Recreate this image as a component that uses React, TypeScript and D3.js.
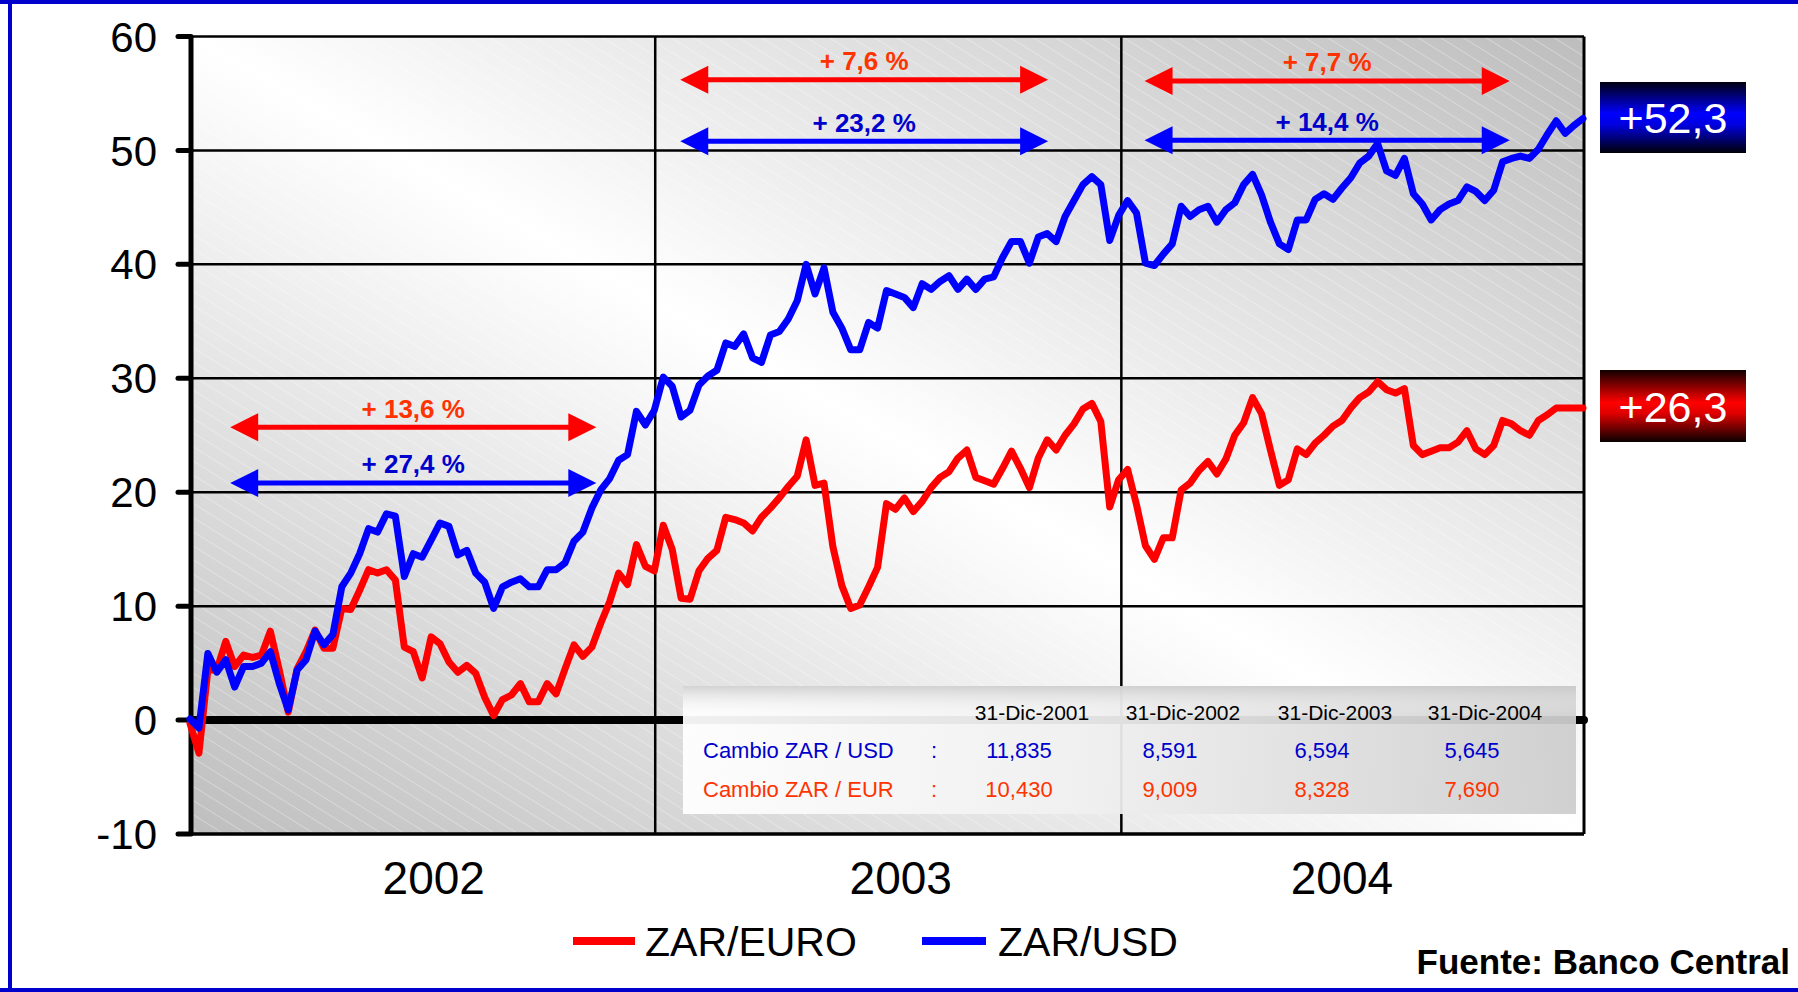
import React from 'react';
import * as d3 from 'd3';

// weekly % change of the rand vs 31-Dec-2001
const zarUsd = [
  0.1, -0.7, 5.85, 4.2, 5.3, 2.9, 4.7, 4.7, 5.0, 6.0, 3.2, 0.9, 4.4, 5.3, 7.8, 6.6, 7.5, 11.7, 12.9, 14.6,
  16.8, 16.5, 18.1, 17.9, 12.6, 14.6, 14.3, 15.8, 17.3, 17.0, 14.5, 14.9, 12.9, 12.1, 9.8, 11.7, 12.1, 12.4, 11.7, 11.7,
  13.2, 13.2, 13.8, 15.7, 16.5, 18.6, 20.2, 21.2, 22.8, 23.3, 27.1, 25.9, 27.2, 30.1, 29.3, 26.6, 27.2, 29.4, 30.2, 30.7,
  33.1, 32.8, 33.9, 31.8, 31.4, 33.8, 34.1, 35.2, 36.8, 40.0, 37.4, 39.7, 35.8, 34.4, 32.5, 32.5, 34.9, 34.4, 37.7, 37.4,
  37.1, 36.2, 38.3, 37.8, 38.5, 39.0, 37.8, 38.7, 37.8, 38.7, 38.9, 40.6, 42.0, 42.0, 40.1, 42.4, 42.7, 42.0, 44.2, 45.6,
  47.0, 47.7, 47.0, 42.1, 44.3, 45.6, 44.5, 40.1, 39.9, 40.9, 41.8, 45.1, 44.2, 44.8, 45.1, 43.7, 44.8, 45.4, 47.0, 47.9,
  46.1, 43.7, 41.8, 41.3, 43.9, 43.9, 45.7, 46.2, 45.7, 46.7, 47.6, 48.9, 49.5, 50.6, 48.2, 47.8, 49.3, 46.2, 45.3, 43.9,
  44.8, 45.3, 45.6, 46.8, 46.4, 45.6, 46.5, 49.0, 49.3, 49.5, 49.3, 50.1, 51.4, 52.6, 51.5, 52.2, 52.8,
];

const zarEur = [
  -0.3, -2.9, 4.4, 4.4, 6.9, 4.7, 5.7, 5.5, 5.7, 7.8, 4.4, 0.7, 4.5, 6.0, 7.9, 6.3, 6.3, 9.8, 9.7, 11.4,
  13.2, 12.9, 13.2, 12.3, 6.4, 6.0, 3.7, 7.3, 6.7, 5.1, 4.2, 4.8, 4.1, 2.0, 0.4, 1.8, 2.2, 3.2, 1.6, 1.6,
  3.2, 2.3, 4.5, 6.6, 5.6, 6.4, 8.5, 10.4, 12.9, 11.9, 15.4, 13.5, 13.1, 17.1, 15.0, 10.7, 10.6, 13.1, 14.2, 14.9,
  17.8, 17.6, 17.3, 16.6, 17.8, 18.6, 19.5, 20.5, 21.4, 24.6, 20.6, 20.8, 15.2, 11.8, 9.8, 10.1, 11.7, 13.4, 19.0, 18.5,
  19.5, 18.3, 19.2, 20.4, 21.3, 21.8, 23.0, 23.7, 21.3, 21.0, 20.7, 22.1, 23.6, 22.1, 20.4, 23.0, 24.6, 23.7, 25.0, 26.0,
  27.3, 27.8, 26.2, 18.7, 21.1, 22.0, 18.9, 15.3, 14.1, 16.0, 16.0, 20.2, 20.8, 21.9, 22.7, 21.6, 22.9, 25.0, 26.1, 28.3,
  26.9, 23.7, 20.6, 21.1, 23.8, 23.3, 24.3, 25.0, 25.8, 26.3, 27.4, 28.3, 28.8, 29.7, 29.0, 28.7, 29.1, 24.1, 23.3, 23.6,
  23.9, 23.9, 24.4, 25.4, 23.8, 23.3, 24.1, 26.3, 26.0, 25.4, 25.0, 26.3, 26.8, 27.4, 27.4, 27.4, 27.4,
];

const years = ['2002', '2003', '2004'];
const yearStartWeek = [0, 52.1, 104.3];
const yearLabelWeek = [27.3, 79.6, 129];
const yTicks = [-10, 0, 10, 20, 30, 40, 50, 60];

const eurChange = ['+ 13,6 %', '+ 7,6 %', '+ 7,7 %'];
const usdChange = ['+ 27,4 %', '+ 23,2 %', '+ 14,4 %'];
const arrowFrom = [4.5, 54.9, 106.9];
const arrowTo = [45.5, 96.1, 147.8];
const eurArrowLevel = [25.7, 56.2, 56.1];
const usdArrowLevel = [20.8, 50.8, 50.9];

const usdTotal = '+52,3';
const eurTotal = '+26,3';

const tableDates = ['31-Dic-2001', '31-Dic-2002', '31-Dic-2003', '31-Dic-2004'];
const usdRates = ['11,835', '8,591', '6,594', '5,645'];
const eurRates = ['10,430', '9,009', '8,328', '7,690'];

const RED = '#ff0000';
const BLUE = '#0000ff';
const RED_TXT = '#ff3300';
const BLUE_TXT = '#0000cc';
const FONT = 'Liberation Sans, Arial, sans-serif';

const W = 1798;
const H = 992;

const x = d3.scaleLinear().domain([0, 156]).range([190, 1583]);
const y = d3.scaleLinear().domain([-10, 60]).range([834, 36.5]);

const lineGen = d3.line<number>()
  .x((d, i) => x(i))
  .y(d => y(d));

const Arrow = ({ x1, x2, yy, color }: { x1: number; x2: number; yy: number; color: string }) => {
  const hl = 28, hh = 14;
  return (
    <g fill={color}>
      <line x1={x1 + hl - 2} x2={x2 - hl + 2} y1={yy} y2={yy} stroke={color} strokeWidth={5} />
      <polygon points={`${x1},${yy} ${x1 + hl},${yy - hh} ${x1 + hl},${yy + hh}`} />
      <polygon points={`${x2},${yy} ${x2 - hl},${yy - hh} ${x2 - hl},${yy + hh}`} />
    </g>
  );
};

const App = () => {
  const left = 191, right = 1584, top = y(60), bottom = y(-10);
  const colX = [1032, 1183, 1335, 1485];

  return (
    <div style={{ position: 'absolute', left: 0, top: 0 }}>
      <svg width={W} height={H} style={{ display: 'block', fontFamily: FONT }}>
        <defs>
          <linearGradient id="bg" x1="0" y1="1" x2="1" y2="0">
            <stop offset="0" stopColor="#bebebe" />
            <stop offset="0.5" stopColor="#ffffff" />
            <stop offset="1" stopColor="#bdbdbd" />
          </linearGradient>
          <pattern id="hatch" width="12" height="12" patternUnits="userSpaceOnUse" patternTransform="rotate(32)">
            <line x1="0" y1="0" x2="12" y2="0" stroke="#ffffff" strokeWidth="1.2" strokeOpacity="0.5" />
          </pattern>
          <linearGradient id="tbl" x1="0" y1="0" x2="1" y2="0">
            <stop offset="0" stopColor="#ffffff" />
            <stop offset="0.45" stopColor="#f0f0f0" />
            <stop offset="1" stopColor="#cdcdcd" />
          </linearGradient>
          <linearGradient id="tblTop" x1="0" y1="0" x2="0" y2="1">
            <stop offset="0" stopColor="#c8c8c8" stopOpacity="0.8" />
            <stop offset="0.25" stopColor="#ffffff" stopOpacity="0" />
          </linearGradient>
          <linearGradient id="boxBlue" x1="0" y1="0" x2="0" y2="1">
            <stop offset="0" stopColor="#000010" />
            <stop offset="0.45" stopColor="#0000ff" />
            <stop offset="0.6" stopColor="#0000e0" />
            <stop offset="1" stopColor="#000008" />
          </linearGradient>
          <linearGradient id="boxRed" x1="0" y1="0" x2="0" y2="1">
            <stop offset="0" stopColor="#100000" />
            <stop offset="0.45" stopColor="#ff0000" />
            <stop offset="0.6" stopColor="#e00000" />
            <stop offset="1" stopColor="#080000" />
          </linearGradient>
        </defs>

        {/* outer frame */}
        <rect x={0} y={0} width={W} height={H} fill="#ffffff" />
        <line x1={10} x2={10} y1={0} y2={H} stroke={BLUE_TXT} strokeWidth={4} />
        <line x1={0} x2={W} y1={2} y2={2} stroke={BLUE_TXT} strokeWidth={4} />
        <line x1={0} x2={W} y1={990} y2={990} stroke={BLUE_TXT} strokeWidth={4} />

        {/* plot background */}
        <rect x={left} y={top} width={right - left} height={bottom - top} fill="url(#bg)" />
        <rect x={left} y={top} width={right - left} height={bottom - top} fill="url(#hatch)" />

        {/* grid */}
        {yTicks.filter(t => t !== 0).map(t => (
          <line key={t} x1={left} x2={right} y1={y(t)} y2={y(t)} stroke="#000" strokeWidth={t === -10 ? 3.5 : 2.5} />
        ))}
        {yearStartWeek.slice(1).map(w => (
          <line key={w} x1={x(w)} x2={x(w)} y1={top} y2={bottom} stroke="#000" strokeWidth={2.5} />
        ))}
        <line x1={right} x2={right} y1={top} y2={bottom} stroke="#000" strokeWidth={3} />

        {/* zero line */}
        <line x1={left} x2={right} y1={y(0)} y2={y(0)} stroke="#000" strokeWidth={8} strokeLinecap="round" />

        {/* y axis */}
        <line x1={left} x2={left} y1={top} y2={bottom} stroke="#000" strokeWidth={5} />
        {yTicks.map(t => (
          <g key={t}>
            <line x1={178} x2={left} y1={y(t)} y2={y(t)} stroke="#000" strokeWidth={5} strokeLinecap="round" />
            <text x={157} y={y(t)} dy="0.36em" textAnchor="end" fontSize={42} fill="#000">{t}</text>
          </g>
        ))}

        {/* year labels */}
        {years.map((yr, i) => (
          <text key={yr} x={x(yearLabelWeek[i])} y={877} dy="0.36em" textAnchor="middle" fontSize={46} fill="#000">{yr}</text>
        ))}

        {/* table */}
        <g>
          <rect x={683} y={686} width={893} height={128} fill="url(#tbl)" opacity={0.94} />
          <rect x={683} y={686} width={893} height={128} fill="url(#tblTop)" />
          {tableDates.map((d, i) => (
            <text key={d} x={colX[i]} y={712} dy="0.36em" textAnchor="middle" fontSize={21} fill="#000">{d}</text>
          ))}
          <text x={703} y={750} dy="0.36em" fontSize={22} fill={BLUE_TXT}>Cambio ZAR / USD</text>
          <text x={934} y={750} dy="0.36em" textAnchor="middle" fontSize={22} fill={BLUE_TXT}>:</text>
          <text x={703} y={789} dy="0.36em" fontSize={22} fill={RED_TXT}>Cambio ZAR / EUR</text>
          <text x={934} y={789} dy="0.36em" textAnchor="middle" fontSize={22} fill={RED_TXT}>:</text>
          {usdRates.map((v, i) => (
            <text key={'u' + i} x={colX[i] - 13} y={750} dy="0.36em" textAnchor="middle" fontSize={22} fill={BLUE_TXT}>{v}</text>
          ))}
          {eurRates.map((v, i) => (
            <text key={'e' + i} x={colX[i] - 13} y={789} dy="0.36em" textAnchor="middle" fontSize={22} fill={RED_TXT}>{v}</text>
          ))}
        </g>

        {/* series */}
        <path d={lineGen(zarEur) || ''} fill="none" stroke={RED} strokeWidth={7} strokeLinejoin="round" strokeLinecap="round" />
        <path d={lineGen(zarUsd) || ''} fill="none" stroke={BLUE} strokeWidth={7} strokeLinejoin="round" strokeLinecap="round" />

        {/* period change arrows */}
        {years.map((yr, i) => {
          const x1 = x(arrowFrom[i]), x2 = x(arrowTo[i]), cx = (x1 + x2) / 2;
          return (
            <g key={'a' + yr}>
              <Arrow x1={x1} x2={x2} yy={y(eurArrowLevel[i])} color={RED} />
              <Arrow x1={x1} x2={x2} yy={y(usdArrowLevel[i])} color={BLUE} />
              <text x={cx} y={y(eurArrowLevel[i]) - 19} dy="0.36em" textAnchor="middle" fontSize={26} fontWeight="bold" fill={RED_TXT}>{eurChange[i]}</text>
              <text x={cx} y={y(usdArrowLevel[i]) - 19} dy="0.36em" textAnchor="middle" fontSize={26} fontWeight="bold" fill={BLUE_TXT}>{usdChange[i]}</text>
            </g>
          );
        })}

        {/* end value boxes */}
        <rect x={1600} y={82} width={146} height={71} fill="url(#boxBlue)" />
        <text x={1673} y={118} dy="0.36em" textAnchor="middle" fontSize={43} fill="#fff">{usdTotal}</text>
        <rect x={1600} y={370} width={146} height={72} fill="url(#boxRed)" />
        <text x={1673} y={407} dy="0.36em" textAnchor="middle" fontSize={43} fill="#fff">{eurTotal}</text>

        {/* legend */}
        <line x1={573} x2={635} y1={941} y2={941} stroke={RED} strokeWidth={8} />
        <text x={645} y={941} dy="0.36em" fontSize={41} fill="#000">ZAR/EURO</text>
        <line x1={922} x2={986} y1={941} y2={941} stroke={BLUE} strokeWidth={8} />
        <text x={998} y={941} dy="0.36em" fontSize={41} fill="#000">ZAR/USD</text>

        <text x={1790} y={961} dy="0.36em" textAnchor="end" fontSize={35} fontWeight="bold" fill="#000">Fuente: Banco Central</text>
      </svg>
    </div>
  );
};

export default App;
